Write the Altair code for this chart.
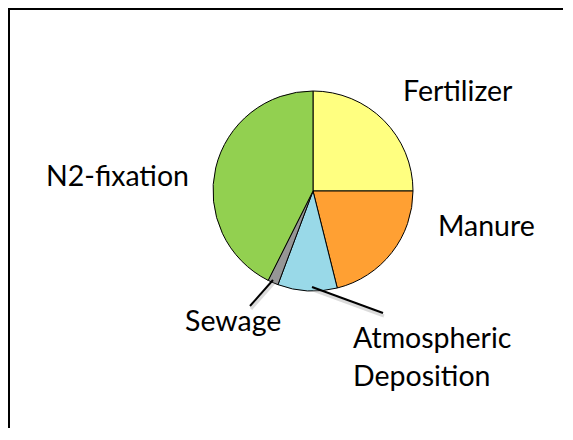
import altair as alt
import pandas as pd

# ---- data ----
categories = ["Fertilizer", "Manure", "Atmospheric Deposition", "Sewage", "N2-fixation"]
shares = [25.0, 21.1, 9.6, 1.7, 42.6]
colors = ["#FFFF80", "#FFA033", "#99D9E8", "#969696", "#92D050"]

label_texts = ["Fertilizer", "Manure", "N2-fixation", "Sewage", "Atmospheric", "Deposition"]

# ---- layout (pixels inside the chart) ----
W, H = 555, 420
CX, CY, R = 305, 183, 100
label_x = [395, 430, 38, 177, 345, 345]
label_y = [93, 228, 178, 323, 340, 378]
leader = {"x": [265, 304], "y": [272, 279], "x2": [242, 375], "y2": [298, 305]}

pie_df = pd.DataFrame({"category": categories, "share": shares,
                       "order": list(range(len(categories)))})

pie = alt.Chart(pie_df).mark_arc(radius=R, stroke="black", strokeWidth=1).encode(
    theta=alt.Theta("share:Q", stack=True),
    color=alt.Color("category:N", scale=alt.Scale(domain=categories, range=colors), legend=None),
    order=alt.Order("order:Q"),
    x=alt.value(CX), y=alt.value(CY),
)

lab_df = pd.DataFrame({"label": label_texts, "x": label_x, "y": label_y})
labels = alt.Chart(lab_df).mark_text(align="left", baseline="alphabetic", font="Lato",
                                     fontSize=28.5, color="black").encode(
    x=alt.X("x:Q", scale=None, axis=None),
    y=alt.Y("y:Q", scale=None, axis=None),
    text="label:N",
)

lead_df = pd.DataFrame(leader)
shadow_df = lead_df.copy()
shadow_df[["x", "x2"]] += 1
shadow_df[["y", "y2"]] += 3
shadows = alt.Chart(shadow_df).mark_rule(color="#999999", strokeWidth=3, opacity=0.35).encode(
    x=alt.X("x:Q", scale=None, axis=None), y=alt.Y("y:Q", scale=None, axis=None),
    x2="x2:Q", y2="y2:Q")
leads = alt.Chart(lead_df).mark_rule(color="black", strokeWidth=2).encode(
    x=alt.X("x:Q", scale=None, axis=None), y=alt.Y("y:Q", scale=None, axis=None),
    x2="x2:Q", y2="y2:Q")

border_df = pd.DataFrame({"x": [1, 0], "y": [0, 1], "x2": [1, 600], "y2": [500, 1]})
border = alt.Chart(border_df).mark_rule(color="black", strokeWidth=2).encode(
    x=alt.X("x:Q", scale=None, axis=None), y=alt.Y("y:Q", scale=None, axis=None),
    x2="x2:Q", y2="y2:Q")

chart = alt.layer(border, pie, shadows, leads, labels).properties(
    width=W, height=H, autosize=alt.AutoSizeParams(type="none"), padding=0,
    background="white",
).configure_view(stroke=None)

chart.save("out.html", embed_options={"renderer": "svg", "actions": False})
